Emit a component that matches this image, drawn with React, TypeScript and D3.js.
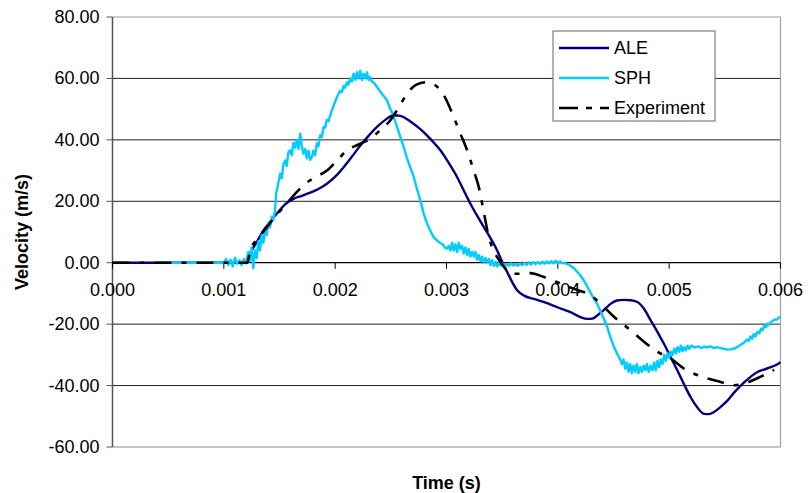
import React from "react";
import * as d3 from "d3";

// Time values in milliseconds, velocities in m/s
const aleData: [number, number][] = [
  [0, 0], [1.21, 0], [1.237, 2.9], [1.3, 7], [1.356, 10.5], [1.42, 13.5], [1.477, 16], [1.55, 19],
  [1.626, 20.8], [1.7, 21.8], [1.776, 22.8], [1.85, 24], [1.926, 25.7], [2.0, 28], [2.076, 31.1],
  [2.15, 34.5], [2.226, 38.2], [2.3, 41.3], [2.376, 44.2], [2.45, 46.5], [2.525, 48], [2.585, 47.8],
  [2.675, 46], [2.765, 43.5], [2.855, 40.3], [2.945, 36.6], [3.02, 32.5], [3.095, 27.9], [3.155, 23.5],
  [3.215, 19.2], [3.275, 15.3], [3.335, 11.6], [3.395, 8], [3.455, 4], [3.5, 0.3], [3.545, -3],
  [3.59, -6.3], [3.635, -9], [3.7, -10.8], [3.784, -11.8], [3.89, -13], [3.995, -14.5], [4.114, -16.1],
  [4.204, -17.7], [4.264, -18.3], [4.31, -18.2], [4.354, -17.2], [4.41, -15.5], [4.474, -13.4],
  [4.53, -12.3], [4.594, -12.1], [4.654, -12.2], [4.714, -12.8], [4.774, -15], [4.834, -18.8],
  [4.894, -22.5], [4.953, -26.4], [5.014, -30.8], [5.074, -35.1], [5.134, -39.6], [5.193, -43.8],
  [5.25, -47], [5.313, -49.2], [5.36, -49.3], [5.403, -48.6], [5.46, -47], [5.523, -44.9],
  [5.583, -42.3], [5.643, -40], [5.72, -37.5], [5.793, -35.6], [5.85, -34.8], [5.913, -34],
  [5.96, -33.3], [6.0, -32.4],
];

const sphData: [number, number][] = [
  [0.47, 0], [1.0, 0],
  [1.02, 1.2], [1.04, -0.8], [1.06, 1.0], [1.08, -1.2], [1.1, 1.6], [1.12, -0.4], [1.14, 0.8],
  [1.16, -0.8], [1.18, 1.2], [1.2, -0.2], [1.22, 3.5], [1.235, 0.5], [1.25, 5], [1.265, -1.8],
  [1.28, 4], [1.295, 1.5], [1.31, 7], [1.325, 4], [1.34, 9], [1.355, 6.5], [1.37, 10.5], [1.385, 9],
  [1.4, 13], [1.415, 11.5], [1.43, 15], [1.445, 14], [1.46, 17], [1.47, 22.5], [1.49, 26],
  [1.506, 29], [1.52, 27.5], [1.535, 32], [1.551, 33.3], [1.565, 31.5], [1.58, 36], [1.596, 36.6],
  [1.61, 35], [1.625, 39], [1.64, 37.5], [1.656, 40], [1.67, 37], [1.686, 42], [1.7, 38],
  [1.715, 35.5], [1.731, 37], [1.745, 34], [1.76, 36.5], [1.775, 33.5], [1.791, 34.4], [1.805, 36.5],
  [1.82, 35], [1.836, 38.8], [1.85, 38], [1.865, 41.5], [1.88, 41], [1.896, 44.2], [1.91, 44],
  [1.925, 46.5], [1.94, 46], [1.956, 48], [1.97, 49.5], [1.985, 51], [2.0, 52.5], [2.016, 53.9],
  [2.03, 55], [2.045, 56], [2.06, 55.5], [2.075, 57.5], [2.09, 57], [2.106, 58.8], [2.12, 58],
  [2.135, 60], [2.15, 59], [2.165, 61.5], [2.18, 59.5], [2.196, 62], [2.21, 60], [2.225, 62.5],
  [2.24, 59.5], [2.255, 61.5], [2.27, 60], [2.286, 62], [2.3, 59.5], [2.315, 60.5], [2.33, 59],
  [2.35, 58.5], [2.376, 57.2], [2.4, 56], [2.43, 54.5], [2.466, 52.9], [2.49, 50.5], [2.51, 49],
  [2.53, 47], [2.556, 44.2], [2.585, 41], [2.615, 37.7], [2.646, 34], [2.675, 31], [2.705, 28],
  [2.735, 24], [2.765, 20.3], [2.795, 16], [2.826, 12.7], [2.86, 10], [2.89, 8], [2.915, 7.3],
  [2.94, 6.5], [2.965, 6], [2.985, 5], [3.005, 4.6], [3.02, 5.5], [3.035, 4], [3.05, 6.5], [3.065, 4],
  [3.08, 6], [3.095, 3.5], [3.11, 6.5], [3.125, 4.5], [3.14, 5.5], [3.155, 3], [3.17, 5], [3.185, 2.5],
  [3.2, 4.5], [3.215, 2], [3.23, 3.5], [3.245, 2], [3.26, 3.5], [3.275, 1], [3.29, 2.5], [3.305, 0.5],
  [3.32, 2], [3.335, 0], [3.35, 1.5], [3.365, 0.3], [3.38, 1.2], [3.395, -0.8], [3.41, 0.8],
  [3.425, -1], [3.44, 0.2], [3.455, -1.2], [3.47, 0], [3.485, -0.9], [3.5, -0.2], [3.52, -1.2],
  [3.54, -0.4], [3.56, -1], [3.58, -0.2], [3.6, -0.9], [3.62, -0.3], [3.64, -1], [3.66, -0.2],
  [3.68, -0.8], [3.7, 0], [3.72, -0.7], [3.74, 0.1], [3.76, -0.6], [3.78, 0.2], [3.8, -0.5],
  [3.82, 0.2], [3.84, -0.4], [3.86, 0.3], [3.88, -0.3], [3.9, 0.4], [3.92, -0.2], [3.94, 0.5],
  [3.96, -0.2], [3.98, 0.6], [4.0, 0], [4.02, 0.4], [4.04, -0.2], [4.06, 0], [4.08, -0.4], [4.1, -0.6],
  [4.12, -1.2], [4.14, -1.6], [4.17, -2.8], [4.2, -4], [4.234, -5.8], [4.26, -7.5], [4.29, -9.5],
  [4.32, -11.5], [4.354, -13.4], [4.38, -15.5], [4.41, -18], [4.444, -21], [4.47, -24], [4.5, -27],
  [4.534, -29.7], [4.56, -31.5], [4.575, -33], [4.59, -31.5], [4.605, -34.5], [4.62, -32.5],
  [4.635, -35.5], [4.65, -33], [4.665, -36], [4.68, -33.5], [4.695, -35.5], [4.71, -33], [4.725, -36],
  [4.74, -34], [4.755, -35.5], [4.77, -33.5], [4.785, -35], [4.8, -33], [4.815, -35.5], [4.834, -33.5],
  [4.85, -35], [4.865, -32.5], [4.88, -35], [4.895, -32], [4.91, -34], [4.924, -31.5], [4.94, -33],
  [4.955, -30], [4.97, -32], [4.985, -29.5], [5.0, -31], [5.014, -29], [5.03, -30], [5.045, -28],
  [5.06, -29.5], [5.075, -27.5], [5.09, -29], [5.105, -27], [5.12, -28.8], [5.133, -27.5],
  [5.15, -28.5], [5.165, -27], [5.18, -28], [5.2, -27], [5.23, -27.6], [5.26, -27.2], [5.29, -27.8],
  [5.313, -27.3], [5.34, -27.6], [5.37, -27.2], [5.4, -27.8], [5.43, -27.5], [5.463, -27.8],
  [5.49, -28], [5.52, -28.3], [5.55, -28.2], [5.583, -28], [5.61, -27.5], [5.64, -26.8], [5.673, -26],
  [5.7, -25], [5.715, -25.5], [5.73, -24], [5.745, -24.8], [5.76, -23.2], [5.775, -24], [5.793, -22.5],
  [5.81, -23], [5.825, -21.5], [5.84, -22], [5.855, -20.5], [5.87, -21], [5.885, -19.8], [5.9, -20.2],
  [5.913, -19.3], [5.93, -19], [5.95, -18.5], [5.97, -18.5], [5.985, -17.8], [6.0, -17.7],
];

const experimentData: [number, number][] = [
  [0, 0], [1.21, 0], [1.237, 4], [1.31, 8], [1.387, 11.6], [1.46, 15], [1.536, 18.1], [1.63, 22],
  [1.731, 25.7], [1.83, 28], [1.926, 30], [2.01, 33], [2.106, 36.6], [2.21, 38.5], [2.316, 40.4],
  [2.4, 43], [2.496, 46.4], [2.57, 50.5], [2.646, 55], [2.73, 58], [2.826, 58.8], [2.89, 58],
  [2.945, 56.2], [3.005, 52.5], [3.065, 47.4], [3.125, 42], [3.185, 36.6], [3.24, 30.5], [3.29, 24.6],
  [3.335, 16.5], [3.38, 8.3], [3.42, 4.2], [3.455, 1.8], [3.5, -0.6], [3.545, -2.5], [3.59, -3.3],
  [3.635, -3.6], [3.69, -3.5], [3.754, -3.4], [3.87, -4.6], [3.99, -6.3], [4.144, -8.5],
  [4.294, -10.6], [4.384, -13.3], [4.504, -17.6], [4.654, -22], [4.744, -24.8], [4.894, -29],
  [5.014, -31.2], [5.133, -34.5], [5.283, -37], [5.463, -38.8], [5.583, -39.9], [5.673, -39.3],
  [5.823, -37.1], [5.943, -34.9],
];

const xTicks = [0, 0.001, 0.002, 0.003, 0.004, 0.005, 0.006];
const yTicks = [-60, -40, -20, 0, 20, 40, 60, 80];

const seriesNames = ["ALE", "SPH", "Experiment"];
const seriesColors = ["#000080", "#00CCFF", "#000000"];

const FONT = "'Liberation Sans', Arial, sans-serif";
const EXP_DASH = "17,10,5,10";

// plain hyphen for negatives, as in spreadsheet-style labels
const hyphen = (s: string) => s.replace("\u2212", "-");

export default function App() {
  const width = 808;
  const height = 493;
  const left = 112.5;
  const right = 780.5;
  const top = 17;
  const bottom = 447;

  const x = d3.scaleLinear().domain([0, 0.006]).range([left, right]);
  const y = d3.scaleLinear().domain([-60, 80]).range([bottom, top]);

  const line = (curve: d3.CurveFactory) =>
    d3
      .line<[number, number]>()
      .x((d) => x(d[0] / 1000))
      .y((d) => y(d[1]))
      .curve(curve);

  const alePath = line(d3.curveMonotoneX)(aleData) || "";
  const sphPath = line(d3.curveLinear)(sphData) || "";
  const expPath = line(d3.curveMonotoneX)(experimentData) || "";

  const fmtY = d3.format(".2f");
  const fmtX = d3.format(".3f");

  const legendX = 553;
  const legendY = 31;
  const legendRows = [48, 78, 108];

  return (
    <svg
      width={width}
      height={height}
      style={{ position: "absolute", left: 0, top: 0, background: "#fff" }}
      fontFamily={FONT}
    >
      <rect x={0} y={0} width={width} height={height} fill="#fff" />

      {/* horizontal gridlines */}
      {yTicks
        .filter((t) => t !== 0 && t !== 80 && t !== -60)
        .map((t) => (
          <line key={t} x1={left} x2={right} y1={y(t)} y2={y(t)} stroke="#222" strokeWidth={1} />
        ))}

      {/* plot frame */}
      <line x1={left} x2={right} y1={y(80)} y2={y(80)} stroke="#9a9a9a" strokeWidth={1} />
      <line x1={left} x2={right} y1={y(-60)} y2={y(-60)} stroke="#8a8a8a" strokeWidth={1} />
      <line x1={right} x2={right} y1={top} y2={bottom} stroke="#a0a0a0" strokeWidth={1.2} />

      {/* y axis */}
      <line x1={left} x2={left} y1={top} y2={bottom} stroke="#555" strokeWidth={1.5} />
      {yTicks.map((t) => (
        <g key={t}>
          <line x1={left - 6} x2={left} y1={y(t)} y2={y(t)} stroke="#555" strokeWidth={1} />
          <text
            x={left - 13}
            y={y(t)}
            textAnchor="end"
            dominantBaseline="central"
            fontSize={18}
            fill="#000"
          >
            {hyphen(fmtY(t))}
          </text>
        </g>
      ))}

      {/* x axis at zero */}
      <line x1={left} x2={right} y1={y(0)} y2={y(0)} stroke="#000" strokeWidth={1.2} />
      {xTicks.map((t) => (
        <g key={t}>
          <line x1={x(t)} x2={x(t)} y1={y(0)} y2={y(0) + 6} stroke="#000" strokeWidth={1} />
          <text x={x(t)} y={y(0) + 33} textAnchor="middle" fontSize={18} fill="#000">
            {fmtX(t)}
          </text>
        </g>
      ))}

      {/* series */}
      <path d={alePath} fill="none" stroke={seriesColors[0]} strokeWidth={2.4} strokeLinejoin="round" />
      <path d={sphPath} fill="none" stroke={seriesColors[1]} strokeWidth={2.4} strokeLinejoin="round" />
      <path d={expPath} fill="none" stroke={seriesColors[2]} strokeWidth={2.6} strokeDasharray={EXP_DASH} />

      {/* axis titles */}
      <text
        x={(left + right) / 2}
        y={489}
        textAnchor="middle"
        fontSize={18}
        fontWeight="bold"
        fill="#000"
      >
        Time (s)
      </text>
      <text
        transform={`translate(28,${(top + bottom) / 2}) rotate(-90)`}
        textAnchor="middle"
        fontSize={18}
        fontWeight="bold"
        fill="#000"
      >
        Velocity (m/s)
      </text>

      {/* legend */}
      <rect x={legendX} y={legendY} width={162} height={90} fill="#fff" stroke="#666" strokeWidth={1} />
      {seriesNames.map((name, i) => (
        <g key={name}>
          <line
            x1={legendX + 6}
            x2={legendX + 56}
            y1={legendRows[i]}
            y2={legendRows[i]}
            stroke={seriesColors[i]}
            strokeWidth={i === 2 ? 2.6 : 2.4}
            strokeDasharray={i === 2 ? "19,8,6,8" : undefined}
          />
          <text x={legendX + 61} y={legendRows[i]} dominantBaseline="central" fontSize={18} fill="#000">
            {name}
          </text>
        </g>
      ))}
    </svg>
  );
}
